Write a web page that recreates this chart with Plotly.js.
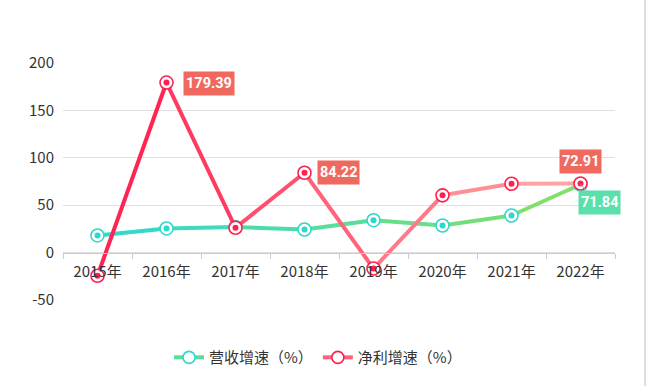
<!DOCTYPE html>
<html><head><meta charset="utf-8">
<script src="https://cdn.plot.ly/plotly-3.0.1.min.js"></script>
<style>html,body{margin:0;padding:0;background:#fff;}#chart{width:649px;height:386px;}</style>
</head><body><div id="chart"></div>
<script>
var years = ['2015年','2016年','2017年','2018年','2019年','2020年','2021年','2022年'];
var revenueGrowth = [18.1, 25.5, 26.9, 24.4, 34.2, 28.6, 39.1, 71.84];
var profitGrowth = [-24.4, 179.39, 26.2, 84.22, -16.8, 60.4, 72.6, 72.91];
var yTickVals = [-50, 0, 50, 100, 150, 200];
var yTickText = ['-50', '0', '50', '100', '150', '200'];
var revenueName = '营收增速（%）';
var profitName = '净利增速（%）';

function hex2rgb(h){return [parseInt(h.substr(1,2),16),parseInt(h.substr(3,2),16),parseInt(h.substr(5,2),16)];}
function mix(a,b,t){var A=hex2rgb(a),B=hex2rgb(b);return 'rgb('+A.map(function(v,i){return Math.round(v+(B[i]-v)*t);}).join(',')+')';}

var traces = [];
function addSeries(vals, c0, c1, markColor, name){
  var n = vals.length;
  for (var i=0;i<n-1;i++){
    traces.push({type:'scatter',mode:'lines',x:[years[i],years[i+1]],y:[vals[i],vals[i+1]],
      line:{color:mix(c0,c1,(i+0.5)/(n-1)),width:4},showlegend:false,hoverinfo:'skip'});
  }
  traces.push({type:'scatter',mode:'markers',x:years,y:vals,showlegend:false,
    marker:{symbol:'circle',size:13,color:'#ffffff',line:{color:markColor,width:1.6}}});
  traces.push({type:'scatter',mode:'markers',x:years,y:vals,showlegend:false,
    marker:{symbol:'circle',size:6,color:markColor,line:{width:0}}});
  traces.push({type:'scatter',mode:'lines+markers',x:[null],y:[null],name:name,
    line:{color:mix(c0,c1,0.5),width:4},
    marker:{symbol:'circle',size:12,color:'#ffffff',line:{color:markColor,width:1.6}}});
}
addSeries(revenueGrowth,'#2cd9d2','#86e062','#2ed8cc',revenueName);
addSeries(profitGrowth,'#ff1a4c','#ffadab','#ff2050',profitName);

var lblFont = {family:'Roboto, "DejaVu Sans Condensed", sans-serif',size:14.5,color:'#ffffff',weight:'bold'};
var red = '#f0695f', green = '#5ae0aa';
var annotations = [
  {x:years[1],y:profitGrowth[1],text:profitGrowth[1].toFixed(2),showarrow:false,xanchor:'left',yanchor:'middle',xshift:16,yshift:-1,
   bgcolor:red,font:lblFont,height:19,borderpad:2},
  {x:years[3],y:profitGrowth[3],text:profitGrowth[3].toFixed(2),showarrow:false,xanchor:'left',yanchor:'middle',xshift:12,
   bgcolor:red,font:lblFont,height:19,borderpad:2},
  {x:years[7],y:profitGrowth[7],text:profitGrowth[7].toFixed(2),showarrow:false,xanchor:'center',yanchor:'bottom',yshift:9,
   bgcolor:red,font:lblFont,height:19,borderpad:2},
  {x:years[7],y:revenueGrowth[7],text:revenueGrowth[7].toFixed(2),showarrow:true,arrowhead:0,arrowwidth:1,arrowcolor:'#aaaaaa',
   ax:19,ay:18,standoff:0,bgcolor:green,font:lblFont,height:19,borderpad:2}
];

var layout = {
  width:649,height:386,
  margin:{l:63,r:34,t:63,b:84},
  paper_bgcolor:'#ffffff',plot_bgcolor:'#ffffff',
  font:{family:'"Noto Sans CJK SC", "Noto Sans", sans-serif',size:15,color:'#333333'},
  xaxis:{type:'category',range:[-0.5,7.5],anchor:'free',position:0.2,showline:true,linecolor:'#cccccc',linewidth:1,
    ticks:'outside',tickson:'boundaries',ticklen:5,tickcolor:'#cccccc',showgrid:false,zeroline:false,
    ticklabelstandoff:5,tickfont:{size:15,color:'#333333'},fixedrange:true},
  yaxis:{range:[-50,200],tickmode:'array',tickvals:yTickVals,ticktext:yTickText,showgrid:true,gridcolor:'#e0e0e0',gridwidth:1,zeroline:false,showline:false,
    ticks:'',ticklabelstandoff:8,tickfont:{size:15,color:'#333333'},fixedrange:true},
  showlegend:true,
  legend:{orientation:'h',x:0.462,xanchor:'center',y:-0.243,yanchor:'middle',font:{size:15,color:'#333333'},itemwidth:30,traceorder:'normal'},
  annotations:annotations,
  shapes:[{type:'line',xref:'paper',yref:'paper',x0:1.0545,x1:1.0545,y0:-0.4,y1:1.3,line:{color:'#dddddd',width:2}}]
};
Plotly.newPlot('chart',traces,layout,{displayModeBar:false,staticPlot:true});
</script></body></html>
